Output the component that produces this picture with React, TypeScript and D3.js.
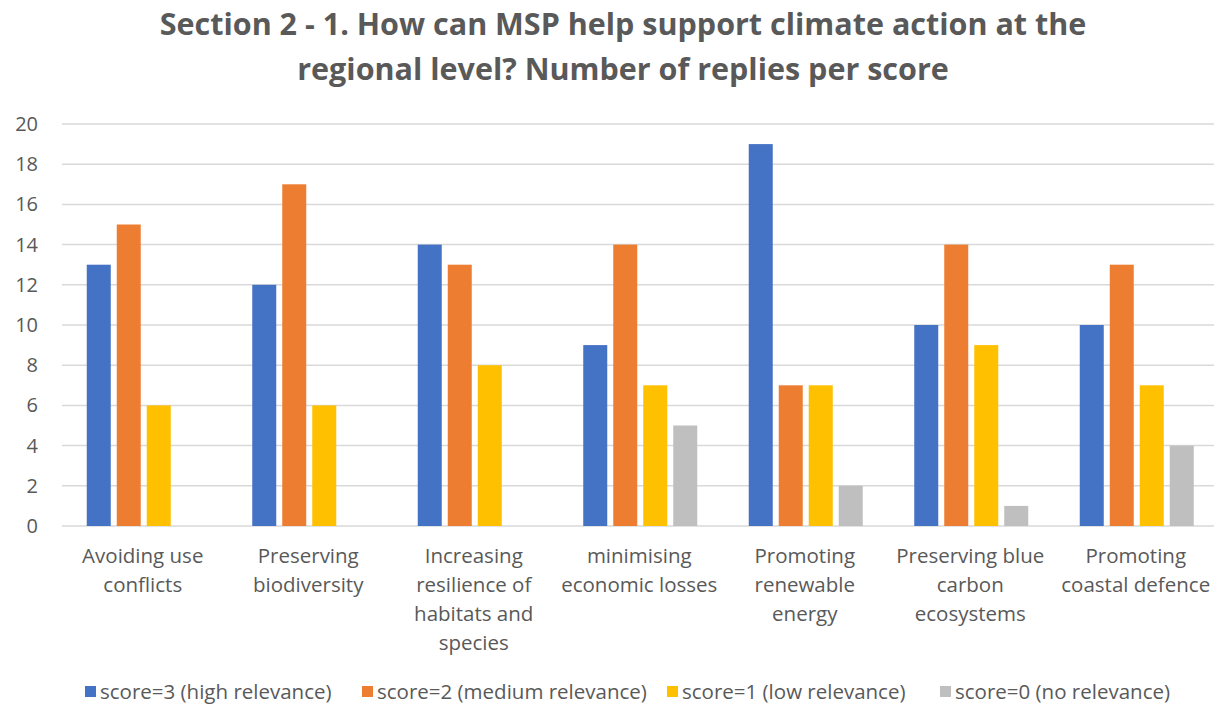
import React from "react";
import * as d3 from "d3";

const categories: string[][] = [
  ["Avoiding use", "conflicts"],
  ["Preserving", "biodiversity"],
  ["Increasing", "resilience of", "habitats and", "species"],
  ["minimising", "economic losses"],
  ["Promoting", "renewable", "energy"],
  ["Preserving blue", "carbon", "ecosystems"],
  ["Promoting", "coastal defence"],
];

const seriesNames = [
  "score=3 (high relevance)",
  "score=2 (medium relevance)",
  "score=1 (low relevance)",
  "score=0 (no relevance)",
];

const score3 = [13, 12, 14, 9, 19, 10, 10];
const score2 = [15, 17, 13, 14, 7, 14, 13];
const score1 = [6, 6, 8, 7, 7, 9, 7];
const score0 = [0, 0, 0, 5, 2, 1, 4];

const yTicks = [0, 2, 4, 6, 8, 10, 12, 14, 16, 18, 20];

const colors = ["#4472C4", "#ED7D31", "#FFC000", "#BFBFBF"];

const titleLines = [
  "Section 2 - 1. How can MSP help support climate action at the",
  "regional level? Number of replies per score",
];

const W = 1214;
const H = 707;
const FONT = "'Open Sans', 'Noto Sans', sans-serif";
const TEXT = "#595959";

export default function App() {
  const series = [score3, score2, score1, score0];
  const keys = categories.map((c) => c.join(" "));

  const x0 = d3.scaleBand<string>().domain(keys).range([61, 61 + 7 * 165.5]);
  const groupW = 114;
  const x1 = d3
    .scaleBand<number>()
    .domain(d3.range(series.length))
    .range([0, groupW])
    .paddingInner(0.2);
  const y = d3.scaleLinear().domain([0, 20]).range([526, 124]);

  const legendX = [85, 362, 667, 940];

  return (
    <svg
      width={W}
      height={H}
      style={{ position: "absolute", left: 0, top: 0, background: "#fff" }}
      fontFamily={FONT}
    >
      <rect width={W} height={H} fill="#fff" />
      {titleLines.map((t, i) => (
        <text
          key={i}
          x={623}
          y={35 + i * 45}
          textAnchor="middle"
          fontSize={30.5}
          fontWeight={700}
          fill={TEXT}
        >
          {t}
        </text>
      ))}

      {yTicks.map((t) => (
        <g key={t}>
          <line
            x1={62}
            x2={W}
            y1={y(t)}
            y2={y(t)}
            stroke="#D9D9D9"
            strokeWidth={1.5}
          />
          <text
            x={38}
            y={y(t)}
            dy="0.35em"
            textAnchor="end"
            fontSize={20}
            fill={TEXT}
          >
            {t}
          </text>
        </g>
      ))}

      {keys.map((k, ci) => {
        const gx = (x0(k) as number) + (x0.bandwidth() - groupW) / 2;
        return (
          <g key={k}>
            {series.map((s, si) =>
              s[ci] > 0 ? (
                <rect
                  key={si}
                  x={gx + (x1(si) as number)}
                  y={y(s[ci])}
                  width={x1.bandwidth()}
                  height={y(0) - y(s[ci])}
                  fill={colors[si]}
                />
              ) : null
            )}
            {categories[ci].map((line, li) => (
              <text
                key={li}
                x={(x0(k) as number) + x0.bandwidth() / 2 - 1}
                y={563 + li * 29}
                textAnchor="middle"
                fontSize={20.5}
                fill={TEXT}
              >
                {line}
              </text>
            ))}
          </g>
        );
      })}

      {seriesNames.map((n, i) => (
        <g key={n}>
          <rect x={legendX[i]} y={686} width={11} height={11} fill={colors[i]} />
          <text x={legendX[i] + 15} y={699} fontSize={20.5} fill={TEXT}>
            {n}
          </text>
        </g>
      ))}
    </svg>
  );
}
